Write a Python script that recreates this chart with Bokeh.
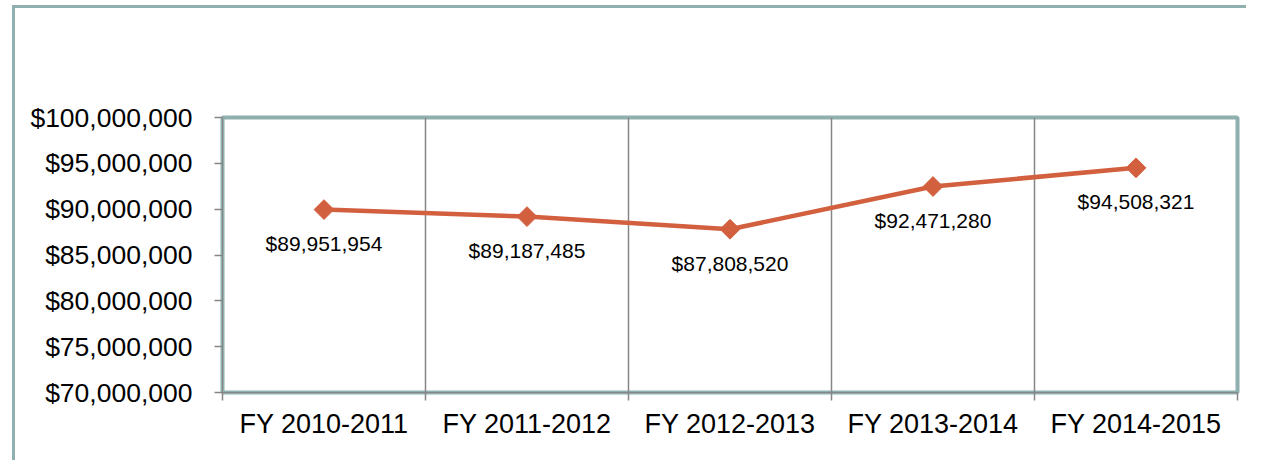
from bokeh.plotting import figure
from bokeh.models import FixedTicker, NumeralTickFormatter, Range1d, ColumnDataSource
from bokeh.core.properties import value
from bokeh.embed import file_html
from bokeh.resources import INLINE
import numpy as np

categories = ["FY 2010-2011", "FY 2011-2012", "FY 2012-2013", "FY 2013-2014", "FY 2014-2015"]
amounts = [89951954, 89187485, 87808520, 92471280, 94508321]
y_ticks = [70000000, 75000000, 80000000, 85000000, 90000000, 95000000, 100000000]

xs = [i + 0.5 for i in range(len(categories))]
labels = ["${:,}".format(v) for v in amounts]
src = ColumnDataSource(dict(x=xs, y=amounts, label=labels))

TEAL = "#8FB0AE"
GRAY = "#868686"
LINE = "#D2603F"
FONT = "Liberation Sans"

outer = {
    "background-color": "white",
    "background-image": f"linear-gradient({TEAL}, {TEAL}), linear-gradient({TEAL}, {TEAL})",
    "background-size": "3px 100%, 100% 3px",
    "background-position": "12px 5px, 12px 5px",
    "background-repeat": "no-repeat",
}

p = figure(width=1246, height=460, output_backend="svg", toolbar_location=None,
           x_range=Range1d(0, len(categories)), y_range=Range1d(y_ticks[0], y_ticks[-1]),
           min_border_left=222, min_border_right=9, min_border_top=117, min_border_bottom=68,
           styles=outer)

p.outline_line_color = TEAL
p.outline_line_width = 4
p.background_fill_color = "white"
p.border_fill_color = None

# x axis: labels at category centers, ticks/grid at boundaries
p.xaxis.ticker = FixedTicker(ticks=xs, minor_ticks=list(range(len(categories) + 1)))
p.xaxis.major_label_overrides = {x: c for x, c in zip(xs, categories)}
p.xaxis.major_tick_out = 0
p.xaxis.major_tick_in = 0
p.xaxis.minor_tick_out = 8
p.xaxis.minor_tick_in = 0
p.xaxis.minor_tick_line_color = GRAY
p.xaxis.minor_tick_line_width = 1.5
p.xaxis.axis_line_color = GRAY
p.xaxis.major_label_standoff = 8
p.xaxis.major_label_text_font = FONT
p.xaxis.major_label_text_font_size = "27px"
p.xaxis.major_label_text_color = "black"

p.xgrid.grid_line_color = None
p.xgrid.minor_grid_line_color = GRAY
p.xgrid.minor_grid_line_width = 1.5

p.yaxis.ticker = FixedTicker(ticks=y_ticks)
p.yaxis.formatter = NumeralTickFormatter(format="$0,0")
p.yaxis.minor_tick_line_color = None
p.yaxis.major_tick_out = 8
p.yaxis.major_tick_in = 0
p.yaxis.major_tick_line_color = GRAY
p.yaxis.major_tick_line_width = 1.5
p.yaxis.axis_line_color = GRAY
p.yaxis.major_label_standoff = 22
p.yaxis.major_label_text_font = FONT
p.yaxis.major_label_text_font_size = "26.5px"
p.yaxis.major_label_text_color = "black"
p.ygrid.grid_line_color = None

p.line("x", "y", source=src, line_color=LINE, line_width=4.5)
p.scatter("x", "y", source=src, marker="square", size=14, angle=np.pi / 4,
          fill_color=LINE, line_color=LINE)
p.text("x", "y", text="label", source=src, text_align="center", text_baseline="alphabetic",
       y_offset=34, text_font=value(FONT), text_font_size="21px", text_color="black")

open("out.html", "w").write(file_html(p, INLINE))
